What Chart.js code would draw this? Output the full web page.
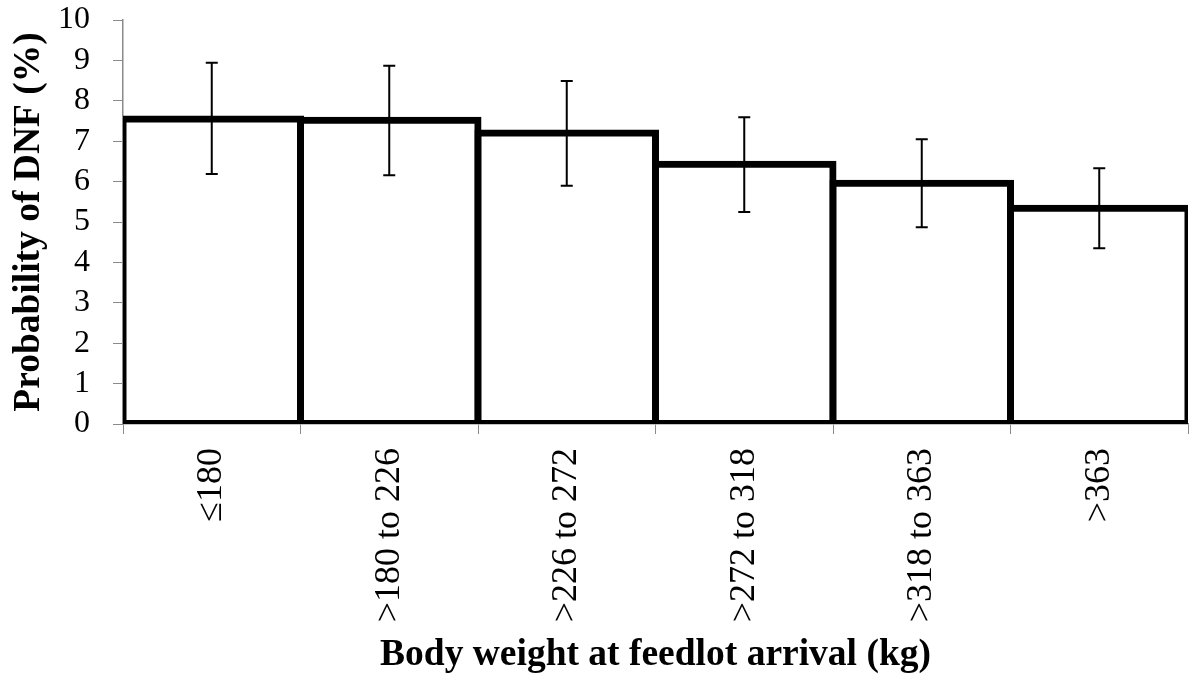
<!DOCTYPE html>
<html>
<head>
<meta charset="utf-8">
<script src="https://cdn.jsdelivr.net/npm/chart.js@4.4.0/dist/chart.umd.min.js"></script>
<style>
  html, body { margin: 0; padding: 0; background: #fff; }
  canvas { display: block; }
</style>
</head>
<body>
<canvas id="grafico" width="1193" height="683"></canvas>
<script>
// weight classes at arrival
const categorias = ['\u2264180', '>180 to 226', '>226 to 272', '>272 to 318', '>318 to 363', '>363'];
// probability of DNF (%)
const probabilidad = [7.55, 7.52, 7.20, 6.43, 5.96, 5.34];
// error bar limits
const limiteInferior = [6.19, 6.16, 5.90, 5.25, 4.87, 4.35];
const limiteSuperior = [8.94, 8.87, 8.49, 7.59, 7.05, 6.33];
const ticksY = [0, 1, 2, 3, 4, 5, 6, 7, 8, 9, 10];

const gris = '#8a8a8a';
const fuente = "'Liberation Serif', 'Times New Roman', serif";

// draw the error bars on top of the bars
const barrasError = {
  id: 'barrasError',
  afterDatasetsDraw(chart) {
    const ctx = chart.ctx;
    const x = chart.scales.x;
    const y = chart.scales.y;
    ctx.save();
    ctx.strokeStyle = '#000';
    ctx.lineWidth = 2;
    categorias.forEach((c, i) => {
      const px = x.getPixelForValue(i);
      const arriba = y.getPixelForValue(limiteSuperior[i]);
      const abajo = y.getPixelForValue(limiteInferior[i]);
      ctx.beginPath();
      ctx.moveTo(px, arriba);
      ctx.lineTo(px, abajo);
      ctx.moveTo(px - 6, arriba);
      ctx.lineTo(px + 6, arriba);
      ctx.moveTo(px - 6, abajo);
      ctx.lineTo(px + 6, abajo);
      ctx.stroke();
    });
    ctx.restore();
  }
};

const sinRelleno = s => {
  s.paddingTop = 0;
  s.paddingBottom = 0;
  s.paddingLeft = 0;
  s.paddingRight = 0;
};

new Chart(document.getElementById('grafico'), {
  type: 'bar',
  data: {
    labels: categorias,
    datasets: [{
      data: probabilidad,
      backgroundColor: '#fff',
      borderColor: '#000',
      borderWidth: 7,
      borderSkipped: false,
      inflateAmount: 3.5,
      categoryPercentage: 1,
      barPercentage: 1,
      clip: 0
    }]
  },
  options: {
    responsive: false,
    animation: false,
    devicePixelRatio: 1,
    layout: { padding: { left: 0, top: 20, right: 5, bottom: 0 } },
    plugins: {
      legend: { display: false },
      tooltip: { enabled: false }
    },
    scales: {
      x: {
        afterFit: s => { s.height = 259; sinRelleno(s); },
        grid: {
          offset: true,
          drawOnChartArea: false,
          drawTicks: true,
          tickLength: 10,
          color: gris
        },
        border: { display: true, color: gris, width: 1.5 },
        ticks: {
          color: '#000',
          font: { family: fuente, size: 36 },
          maxRotation: 90,
          minRotation: 90,
          autoSkip: false,
          padding: 14
        },
        title: {
          display: true,
          text: 'Body weight at feedlot arrival (kg)',
          color: '#000',
          font: { family: fuente, size: 37.5, weight: 'bold' },
          padding: { top: 0, bottom: 5 }
        }
      },
      y: {
        min: 0,
        max: 10,
        afterFit: s => { s.width = 123; sinRelleno(s); },
        afterBuildTicks: s => { s.ticks = ticksY.map(v => ({ value: v })); },
        grid: {
          drawOnChartArea: false,
          drawTicks: true,
          tickLength: 10,
          color: gris
        },
        border: { display: true, color: gris, width: 1.5 },
        ticks: {
          color: '#000',
          font: { family: fuente, size: 32 },
          autoSkip: false,
          padding: 23
        },
        title: {
          display: true,
          text: 'Probability of DNF (%)',
          color: '#000',
          font: { family: fuente, size: 37.5, weight: 'bold' },
          padding: { top: 7, bottom: 0 }
        }
      }
    }
  },
  plugins: [barrasError]
});
</script>
</body>
</html>
